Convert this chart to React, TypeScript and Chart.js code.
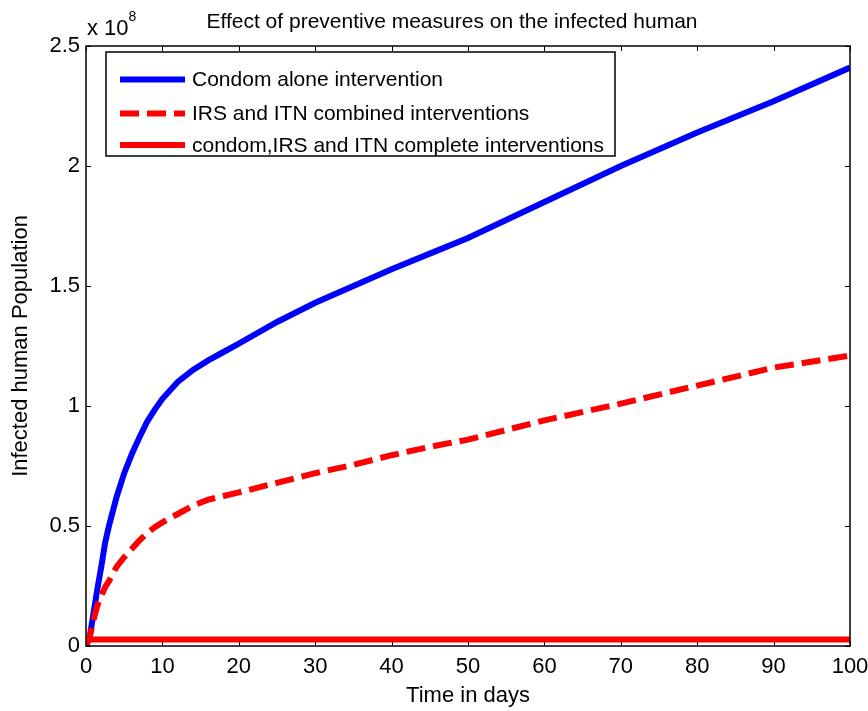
import React, { useEffect, useRef } from "react";
import { Chart, registerables } from "chart.js";

Chart.register(...registerables);

// ---- data ----
const days = [0, 0.5, 1, 1.5, 2, 2.5, 3, 4, 5, 6, 7, 8, 9, 10, 12, 14, 16, 18, 20, 25, 30, 35, 40, 45, 50, 60, 70, 80, 90, 100];
const condomAlone = [0, 0.04e8, 0.14e8, 0.24e8, 0.33e8, 0.43e8, 0.5e8, 0.62e8, 0.72e8, 0.8e8, 0.87e8, 0.935e8, 0.985e8, 1.03e8, 1.1e8, 1.15e8, 1.19e8, 1.225e8, 1.26e8, 1.35e8, 1.43e8, 1.5e8, 1.57e8, 1.635e8, 1.7e8, 1.85e8, 2.0e8, 2.14e8, 2.27e8, 2.41e8];
const irsItnCombined = [0, 0.04e8, 0.11e8, 0.17e8, 0.21e8, 0.245e8, 0.27e8, 0.33e8, 0.37e8, 0.405e8, 0.44e8, 0.47e8, 0.495e8, 0.515e8, 0.55e8, 0.585e8, 0.61e8, 0.625e8, 0.64e8, 0.68e8, 0.72e8, 0.755e8, 0.795e8, 0.83e8, 0.86e8, 0.94e8, 1.01e8, 1.085e8, 1.16e8, 1.21e8];
const completeInterventions = [0.027e8, 0.027e8, 0.027e8, 0.027e8, 0.027e8, 0.027e8, 0.027e8, 0.027e8, 0.027e8, 0.027e8, 0.027e8, 0.027e8, 0.027e8, 0.027e8, 0.027e8, 0.027e8, 0.027e8, 0.027e8, 0.027e8, 0.027e8, 0.027e8, 0.027e8, 0.027e8, 0.027e8, 0.027e8, 0.027e8, 0.027e8, 0.027e8, 0.027e8, 0.027e8];
const seriesLabels = [
  "Condom alone intervention",
  "IRS and ITN combined interventions",
  "condom,IRS and ITN complete interventions",
];
const xTickValues = [0, 10, 20, 30, 40, 50, 60, 70, 80, 90, 100];
const yTickValues = [0, 0.5e8, 1e8, 1.5e8, 2e8, 2.5e8];
const titleText = "Effect of preventive measures on the infected human";
const xTitle = "Time in days";
const yTitle = "Infected human Population";
const yExponentText = "x 10";
const yExponent = "8";

const FONT = "'Liberation Sans', Arial, Helvetica, sans-serif";

const decorPlugin = {
  id: "decor",
  beforeDatasetsDraw(chart: any) {
    const { ctx, chartArea, scales } = chart;
    const { left, right, top, bottom } = chartArea;
    const tl = 5;
    ctx.save();
    ctx.strokeStyle = "#000";
    ctx.lineWidth = 1;
    scales.x.ticks.forEach((t: any) => {
      const px = Math.round(scales.x.getPixelForValue(t.value)) + 0.5;
      ctx.beginPath();
      ctx.moveTo(px, bottom);
      ctx.lineTo(px, bottom - tl);
      ctx.moveTo(px, top);
      ctx.lineTo(px, top + tl);
      ctx.stroke();
    });
    scales.y.ticks.forEach((t: any) => {
      const py = Math.round(scales.y.getPixelForValue(t.value)) + 0.5;
      ctx.beginPath();
      ctx.moveTo(left, py);
      ctx.lineTo(left + tl, py);
      ctx.moveTo(right, py);
      ctx.lineTo(right - tl, py);
      ctx.stroke();
    });
    ctx.restore();
  },
  afterDraw(chart: any) {
    const { ctx, chartArea } = chart;
    const { left, right, top, bottom } = chartArea;
    ctx.save();
    // frame
    ctx.strokeStyle = "#000";
    ctx.lineWidth = 1.5;
    ctx.strokeRect(left, top, right - left, bottom - top);

    // title
    ctx.fillStyle = "#000";
    ctx.font = `21px ${FONT}`;
    ctx.textAlign = "center";
    ctx.textBaseline = "alphabetic";
    ctx.fillText(titleText, 452, 28);

    // exponent label
    ctx.textAlign = "left";
    ctx.font = `22px ${FONT}`;
    ctx.fillText(yExponentText, left + 1, 35);
    const w = ctx.measureText(yExponentText).width;
    ctx.font = `14px ${FONT}`;
    ctx.fillText(yExponent, left + 1 + w, 21);

    // legend
    const lx = left + 20;
    const ly = top + 6;
    const lw = 509;
    const lh = 104;
    ctx.fillStyle = "#fff";
    ctx.fillRect(lx, ly, lw, lh);
    ctx.strokeStyle = "#000";
    ctx.lineWidth = 1.5;
    ctx.strokeRect(lx, ly, lw, lh);
    const rows = [27.5, 61.5, 93];
    chart.data.datasets.forEach((ds: any, i: number) => {
      const cy = ly + rows[i];
      ctx.strokeStyle = ds.borderColor;
      ctx.lineWidth = ds.borderWidth;
      ctx.setLineDash(ds.borderDash || []);
      ctx.lineCap = "butt";
      ctx.beginPath();
      ctx.moveTo(lx + 14, cy);
      ctx.lineTo(lx + 79, cy);
      ctx.stroke();
      ctx.setLineDash([]);
      ctx.fillStyle = "#000";
      ctx.font = `21px ${FONT}`;
      ctx.textAlign = "left";
      ctx.textBaseline = "middle";
      ctx.fillText(ds.label, lx + 86, cy + 1);
    });
    ctx.restore();
  },
};

export default function App() {
  const ref = useRef<HTMLCanvasElement | null>(null);
  useEffect(() => {
    if (!ref.current) return;
    const chart = new Chart(ref.current, {
      type: "line",
      data: {
        datasets: [
          {
            label: seriesLabels[0],
            data: days.map((d, i) => ({ x: d, y: condomAlone[i] })),
            borderColor: "#0000ff",
            borderWidth: 6,
            pointRadius: 0,
            tension: 0,
            order: 3,
          },
          {
            label: seriesLabels[1],
            data: days.map((d, i) => ({ x: d, y: irsItnCombined[i] })),
            borderColor: "#ff0000",
            borderWidth: 6,
            borderDash: [19, 8],
            pointRadius: 0,
            tension: 0,
            order: 2,
          },
          {
            label: seriesLabels[2],
            data: days.map((d, i) => ({ x: d, y: completeInterventions[i] })),
            borderColor: "#ff0000",
            borderWidth: 6,
            pointRadius: 0,
            tension: 0,
            order: 1,
          },
        ],
      },
      options: {
        responsive: false,
        animation: false,
        devicePixelRatio: 1,
        layout: { padding: { top: 46, right: 18, left: 0, bottom: 0 } },
        plugins: {
          legend: { display: false },
          title: { display: false },
          tooltip: { enabled: false },
        },
        scales: {
          x: {
            type: "linear",
            min: 0,
            max: 100,
            afterBuildTicks: (s: any) => {
              s.ticks = xTickValues.map((v) => ({ value: v }));
            },
            afterFit: (s: any) => {
              s.height = 65;
              s.paddingLeft = 0;
              s.paddingRight = 0;
            },
            grid: { display: false, drawTicks: false },
            border: { display: false },
            ticks: {
              padding: 8,
              color: "#000",
              font: { family: FONT, size: 22 },
              maxRotation: 0,
              autoSkip: false,
            },
            title: {
              display: true,
              text: xTitle,
              color: "#000",
              font: { family: FONT, size: 22 },
              padding: { top: 0, bottom: 2 },
            },
          },
          y: {
            type: "linear",
            min: 0,
            max: 2.5e8,
            afterBuildTicks: (s: any) => {
              s.ticks = yTickValues.map((v) => ({ value: v }));
            },
            afterFit: (s: any) => {
              s.width = 86;
              s.paddingTop = 0;
              s.paddingBottom = 0;
            },
            grid: { display: false, drawTicks: false },
            border: { display: false },
            ticks: {
              padding: 6,
              color: "#000",
              font: { family: FONT, size: 22 },
              callback: (v: any) => String(Number(v) / 1e8),
            },
            title: {
              display: true,
              text: yTitle,
              color: "#000",
              font: { family: FONT, size: 22 },
              padding: { top: 8, bottom: 0 },
            },
          },
        },
      },
      plugins: [decorPlugin],
    } as any);
    return () => chart.destroy();
  }, []);
  return (
    <div style={{ position: "absolute", left: 0, top: 0, width: 868, height: 711, background: "#fff" }}>
      <canvas ref={ref} width={868} height={711} style={{ display: "block" }} />
    </div>
  );
}
